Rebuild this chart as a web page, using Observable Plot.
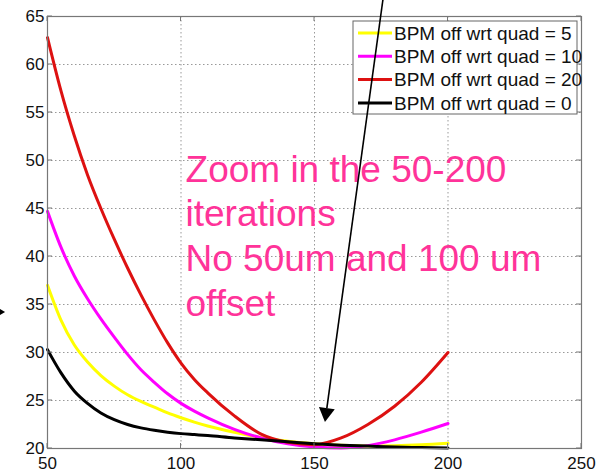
<!DOCTYPE html>
<html><head><meta charset="utf-8">
<script src="https://cdn.jsdelivr.net/npm/d3@7"></script>
<script src="https://cdn.jsdelivr.net/npm/@observablehq/plot@0.6"></script>
<style>body{margin:0;background:#fff}svg{display:block}</style>
</head><body><div id="chart"></div>
<script>
// iterations (x)
const iterations = [50,55,60,65,70,75,80,85,90,95,100,105,110,120,130,140,150,160,170,180,190,200];
// series values (y)
const quad5  = [37.0,33.4,30.8,29.0,27.6,26.5,25.6,24.9,24.3,23.7,23.2,22.75,22.35,21.7,21.15,20.75,20.5,20.33,20.25,20.28,20.38,20.55];
const quad10 = [44.7,41.0,38.0,35.6,33.5,31.6,29.8,28.2,26.9,25.7,24.7,23.9,23.2,22.0,21.1,20.5,20.15,20.05,20.3,20.9,21.7,22.6];
const quad20 = [62.8,57.3,52.6,48.5,45.0,41.8,38.8,36.0,33.4,31.0,28.9,27.2,25.8,23.4,21.5,20.65,20.4,21.1,22.5,24.4,26.9,30.0];
const quad0  = [30.3,27.9,26.0,24.7,23.7,23.0,22.5,22.15,21.9,21.7,21.55,21.45,21.35,21.1,20.9,20.7,20.5,20.35,20.25,20.15,20.1,20.05];
const seriesNames = ["BPM off wrt quad = 5","BPM off wrt quad = 10","BPM off wrt quad = 20","BPM off wrt quad = 0"];
const seriesValues = [quad5, quad10, quad20, quad0];
const seriesColors = ["#ffff00","#ff00ff","#dd1111","#000000"];
// ticks
const xTicks = [50,100,150,200,250];
const yTicks = [20,25,30,35,40,45,50,55,60,65];
// annotations
const noteText = ["Zoom in the 50-200","iterations","No 50um and 100 um","offset"];
const note = [{x: 101.7, y: 51.1, text: noteText.join("\n")}];
const arrowMain = {x1: 175.8, y1: 66.67, x2: 154.1, y2: 22.7};
const arrowLeft = {x1: 26, y1: 34.17, x2: 34.3, y2: 34.17};

const rows = [];
seriesNames.forEach((s, i) => iterations.forEach((x, j) => rows.push({series: s, x, y: seriesValues[i][j]})));

const font = "'Liberation Sans', Arial, Helvetica, sans-serif";
const plot = Plot.plot({
  width: 599, height: 473,
  marginLeft: 47, marginRight: 18, marginTop: 16, marginBottom: 25,
  style: {fontFamily: font, fontSize: "17px", background: "#fff", color: "#111", overflow: "visible"},
  x: {domain: [50, 250], label: null},
  y: {domain: [20, 65], label: null},
  color: {domain: seriesNames, range: seriesColors},
  marks: [
    Plot.gridX(xTicks.slice(1, -1), {stroke: "#999", strokeOpacity: 1, strokeDasharray: "1.5,2.5"}),
    Plot.gridY(yTicks.slice(1, -1), {stroke: "#999", strokeOpacity: 1, strokeDasharray: "1.5,2.5"}),
    Plot.axisX(xTicks, {anchor: "bottom", tickSize: 0, tickPadding: 8, fontSize: 17, label: null}),
    Plot.axisY(yTicks, {anchor: "left", tickSize: 0, tickPadding: 3, fontSize: 17, label: null}),
    Plot.line(rows, {x: "x", y: "y", z: "series", stroke: "series", strokeWidth: 3, curve: "monotone-x"}),
    Plot.frame({stroke: "#777", strokeWidth: 1.2}),
    Plot.text(note, {x: "x", y: "y", text: "text", textAnchor: "start", lineAnchor: "top", fontSize: 37, lineHeight: 1.21, fill: "#ff3399"})
  ]
});
document.getElementById("chart").append(plot);

const sx = plot.scale("x"), sy = plot.scale("y");
const svg = d3.select(plot);
const X = v => sx.apply(v), Y = v => sy.apply(v);

// inward ticks (MATLAB style)
const tk = svg.append("g").attr("stroke", "#777").attr("stroke-width", 1);
xTicks.forEach(t => {
  tk.append("line").attr("x1", X(t)).attr("x2", X(t)).attr("y1", Y(20)).attr("y2", Y(20) - 5);
  tk.append("line").attr("x1", X(t)).attr("x2", X(t)).attr("y1", Y(65)).attr("y2", Y(65) + 5);
});
yTicks.forEach(t => {
  tk.append("line").attr("y1", Y(t)).attr("y2", Y(t)).attr("x1", X(50)).attr("x2", X(50) + 5);
  tk.append("line").attr("y1", Y(t)).attr("y2", Y(t)).attr("x1", X(250)).attr("x2", X(250) - 5);
});

// legend
const lg = svg.append("g").attr("text-anchor", "start");
const L = X(250) - 4, T = Y(65) + 5, W = 224, rowH = 23.3;
lg.append("rect").attr("x", L - W).attr("y", T).attr("width", W).attr("height", 93)
  .attr("fill", "#fff").attr("stroke", "#666").attr("stroke-width", 1);
seriesNames.forEach((s, i) => {
  const yy = T + 12 + i * rowH;
  lg.append("line").attr("x1", L - W + 5).attr("x2", L - W + 39).attr("y1", yy).attr("y2", yy)
    .attr("stroke", seriesColors[i]).attr("stroke-width", 3);
  lg.append("text").attr("x", L - W + 41).attr("y", yy).attr("dy", "0.36em")
    .attr("text-anchor", "start").style("font-size", "19px").style("font-family", font).attr("fill", "#111").text(s);
});

// arrows
function arrow(a, headLen, headW, width) {
  const x1 = X(a.x1), y1 = Y(a.y1), x2 = X(a.x2), y2 = Y(a.y2);
  const ang = Math.atan2(y2 - y1, x2 - x1);
  const bx = x2 - headLen * Math.cos(ang), by = y2 - headLen * Math.sin(ang);
  svg.append("line").attr("x1", x1).attr("y1", y1).attr("x2", bx).attr("y2", by)
    .attr("stroke", "#000").attr("stroke-width", width);
  const px = -Math.sin(ang) * headW / 2, py = Math.cos(ang) * headW / 2;
  svg.append("path").attr("d", `M${x2},${y2}L${bx + px},${by + py}L${bx - px},${by - py}Z`).attr("fill", "#000");
}
arrow(arrowMain, 14, 16, 1.6);
arrow(arrowLeft, 6, 7, 1.2);
</script></body></html>
